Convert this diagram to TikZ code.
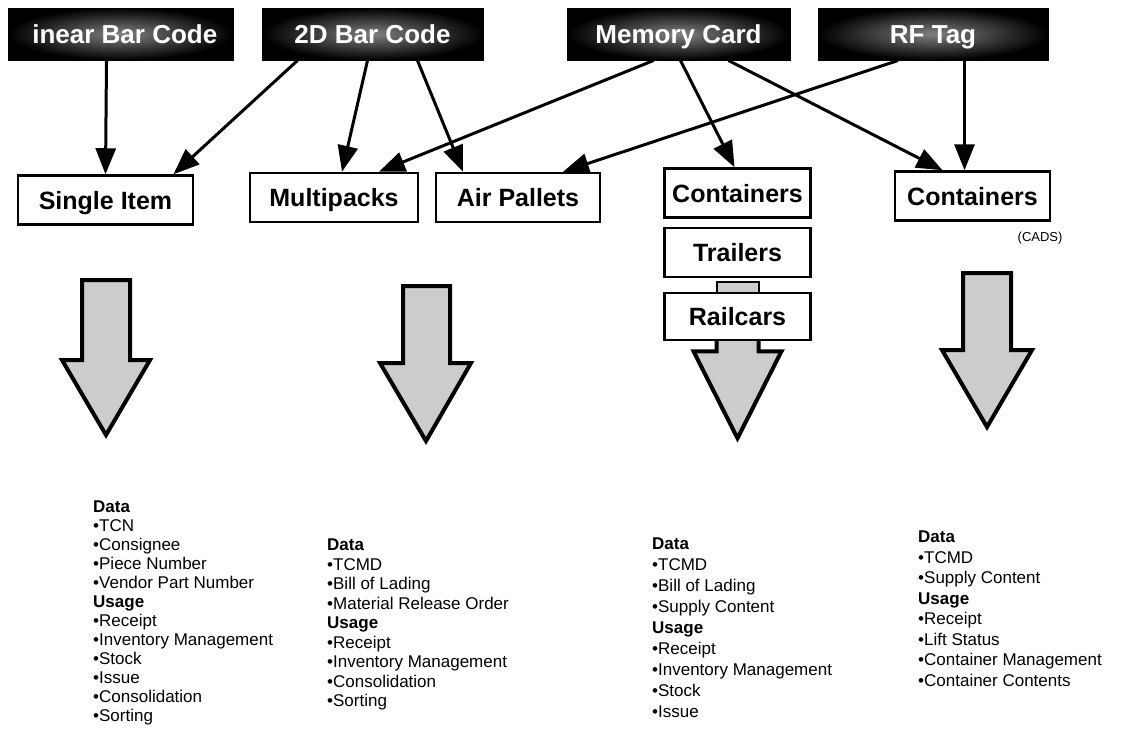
\documentclass[tikz,border=0pt]{standalone}
\usepackage{fontspec}
\setmainfont{Liberation Sans}
\usetikzlibrary{arrows.meta,shapes}
\usetikzlibrary{backgrounds}

\begin{document}
\begin{tikzpicture}[x=1pt,y=-1pt,>={Triangle[length=26pt,width=20pt]},
        source/.style={rectangle,draw=black,line width=1pt,shading=radial,inner color=black!50,outer color=black,
          minimum height=52pt,inner sep=0pt},
        srctext/.style={font=\fontsize{26}{26}\selectfont\bfseries,text=white,inner sep=0pt,text height=19pt,text depth=0pt},
        medium/.style={rectangle,draw=black,line width=2.5pt,fill=white,minimum height=49pt,inner sep=0pt,
          font=\fontsize{25}{25}\selectfont\bfseries,text height=18pt,text depth=0pt},
        link/.style={->,line width=3pt},
        bigarrow/.style={draw=black,line width=4pt,fill=black!20,line join=miter},
        list/.style={anchor=north west,align=left,inner sep=0pt}]

        \useasboundingbox (0,0) rectangle (1143,732);

        % sources
        \node [source,minimum width=225pt] (lin)  at (120.5,34) {};
        \node [source,minimum width=221pt] (two)  at (372.5,34) {};
        \node [source,minimum width=223pt] (mem)  at (678.5,34) {};
        \node [source,minimum width=230pt] (rf)   at (933,34)   {};
        \begin{scope}
          \clip ([xshift=25pt]lin.south west) rectangle (lin.north east);
          \node [srctext,anchor=east] (lintext) at ([xshift=-16pt]lin.east) {Linear Bar Code};
        \end{scope}
        \node [srctext] (twotext) at (two) {2D Bar Code};
        \node [srctext] (memtext) at (mem) {Memory Card};
        \node [srctext] (rftext)  at (rf)  {RF Tag};

        % carriers
        \node [medium,minimum width=175pt] (single) at (105.5,200)  {Single Item};
        \node [medium,minimum width=168pt] (multi)  at (334,197.5)  {Multipacks};
        \node [medium,minimum width=164pt] (air)    at (518,197.5)  {Air Pallets};
        \node [medium,minimum width=146pt] (cont)   at (737.5,193)  {Containers};
        \node [medium,minimum width=146pt] (trail) [below of=cont, node distance=59.5pt] {Trailers};
        \node [medium,minimum width=146pt,minimum height=47pt] (rail) [below of=trail, node distance=64pt] {Railcars};
        \node [medium,minimum width=155pt] (cads)   at (972.5,196)  {Containers};
        \node [font=\fontsize{13}{13}\selectfont,anchor=east] (cadsnote) at (1066,238) {(CADS)};

        \draw [link] ([xshift=-14pt]lin.south) -- (single.north);
        \draw [link] ([xshift=-75pt]two.south) -- ([xshift=68pt]single.north);
        \draw [link] ([xshift=-5pt]two.south)  -- ([xshift=8pt]multi.north);
        \draw [link] ([xshift=45pt]two.south)  -- ([xshift=-55pt]air.north);
        \draw [link] ([xshift=-25pt]mem.south) -- ([xshift=45pt]multi.north);
        \draw [link] ([xshift=2pt]mem.south)   -- ([xshift=-3pt]cont.north);
        \draw [link] ([xshift=50pt]mem.south)  -- ([xshift=-30pt]cads.north);
        \draw [link] ([xshift=-35pt]rf.south)  -- ([xshift=45pt]air.north);
        \draw [link] ([xshift=-8pt]cads.north |- rf.south) -- ([xshift=-8pt]cads.north);

        % flow arrows
        \draw [bigarrow] (82,280) -- (130,280) -- (130,360) -- (150,360) -- (106,435) -- (62,360) -- (82,360) -- cycle;
        \draw [bigarrow] (403,286) -- (450,286) -- (450,363) -- (471,363) -- (426,441) -- (380,363) -- (403,363) -- cycle;
        \draw [bigarrow] (963,273) -- (1011,273) -- (1011,350) -- (1032,350) -- (987,427) -- (942,350) -- (963,350) -- cycle;

        \begin{pgfonlayer}{background}
          \node [rectangle,draw=black,line width=2pt,fill=black!20,minimum width=42pt,minimum height=14pt,inner sep=0pt]
                (coupler) [below of=trail, node distance=36pt] {};
          \draw [bigarrow] ([xshift=-21pt,yshift=6pt]rail.south) -- ([xshift=21pt,yshift=6pt]rail.south)
                -- ([xshift=21pt,yshift=-10pt]rail.south) -- ++(23,0)
                -- ([yshift=-97pt]rail.south) -- ([xshift=-44pt,yshift=-10pt]rail.south) -- ++(23,0) -- cycle;
        \end{pgfonlayer}

        % data and usage
        \node [list,font=\fontsize{17}{19}\selectfont] (listsingle) at (93,501)
          {\textbf{Data}\\ •TCN\\ •Consignee\\ •Piece Number\\ •Vendor Part Number\\ \textbf{Usage}\\
           •Receipt\\ •Inventory Management\\ •Stock\\ •Issue\\ •Consolidation\\ •Sorting};
        \node [list,font=\fontsize{17}{19.5}\selectfont] (listmulti) at (327,539)
          {\textbf{Data}\\ •TCMD\\ •Bill of Lading\\ •Material Release Order\\ \textbf{Usage}\\
           •Receipt\\ •Inventory Management\\ •Consolidation\\ •Sorting};
        \node [list,font=\fontsize{17}{21}\selectfont] (listcont) at (652,538)
          {\textbf{Data}\\ •TCMD\\ •Bill of Lading\\ •Supply Content\\ \textbf{Usage}\\
           •Receipt\\ •Inventory Management\\ •Stock\\ •Issue};
        \node [list,font=\fontsize{17}{20.5}\selectfont] (listcads) at (918,531)
          {\textbf{Data}\\ •TCMD\\ •Supply Content\\ \textbf{Usage}\\
           •Receipt\\ •Lift Status\\ •Container Management\\ •Container Contents};
\end{tikzpicture}
\end{document}
